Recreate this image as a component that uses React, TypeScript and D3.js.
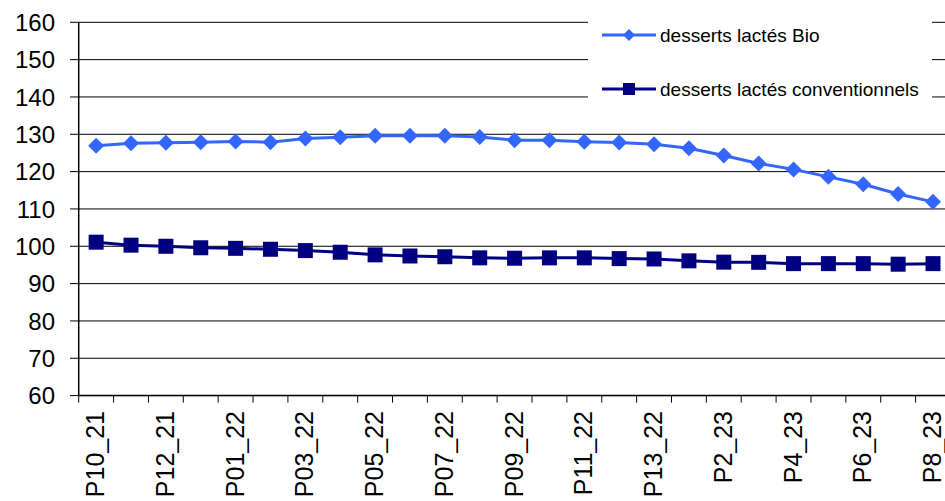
import React from "react";
import * as d3 from "d3";

const categories = [
  "P10_21", "P11_21", "P12_21", "P13_21", "P01_22", "P02_22", "P03_22", "P04_22",
  "P05_22", "P06_22", "P07_22", "P08_22", "P09_22", "P10_22", "P11_22", "P12_22",
  "P13_22", "P1_23", "P2_23", "P3_23", "P4_23", "P5_23", "P6_23", "P7_23", "P8_23",
];
const bioValues = [
  126.9, 127.6, 127.75, 127.9, 128.1, 127.9, 128.9, 129.2, 129.6, 129.6, 129.6, 129.3,
  128.4, 128.4, 128.0, 127.8, 127.3, 126.25, 124.3, 122.2, 120.6, 118.6, 116.6, 114.0, 111.9,
];
const convValues = [
  101.1, 100.3, 100.0, 99.6, 99.45, 99.2, 98.85, 98.4, 97.7, 97.4, 97.2, 96.9,
  96.8, 96.9, 96.9, 96.7, 96.6, 96.1, 95.75, 95.7, 95.35, 95.35, 95.35, 95.2, 95.35,
];
const yTicks = [60, 70, 80, 90, 100, 110, 120, 130, 140, 150, 160];
const seriesNames = ["desserts lactés Bio", "desserts lactés conventionnels"];

const W = 945;
const H = 501;
const left = 78.7;
const band = 34.87;
const top = 22.3;
const bottom = 395.6;
const FONT = "'Liberation Sans', Arial, sans-serif";

export default function App() {
  const x = d3
    .scaleBand<string>()
    .domain(categories)
    .range([left, left + band * categories.length])
    .paddingInner(0)
    .paddingOuter(0);
  const y = d3.scaleLinear().domain([60, 160]).range([bottom, top]);
  const cx = (c: string) => (x(c) as number) + x.bandwidth() / 2;

  const line = d3
    .line<number>()
    .x((_, i) => cx(categories[i]))
    .y((v) => y(v));

  const bioColor = "#3366FF";
  const convColor = "#000080";

  const diamond = (px: number, py: number, r: number) =>
    `M${px},${py - r}L${px + r},${py}L${px},${py + r}L${px - r},${py}Z`;

  return (
    <div style={{ position: "fixed", left: 0, top: 0, width: W, height: H, background: "#fff" }}>
      <svg width={W} height={H} style={{ display: "block" }} fontFamily={FONT}>
        <rect width={W} height={H} fill="#fff" />
        {/* gridlines */}
        {yTicks.map((t) => (
          <line
            key={"g" + t}
            x1={70}
            x2={W}
            y1={y(t)}
            y2={y(t)}
            stroke="#000"
            strokeWidth={1}
          />
        ))}
        {/* y labels */}
        {yTicks.map((t) => (
          <text
            key={"yl" + t}
            x={55}
            y={y(t)}
            dy="0.36em"
            textAnchor="end"
            fontSize={24}
            fill="#000"
          >
            {t}
          </text>
        ))}
        {/* y axis */}
        <line x1={left} x2={left} y1={top} y2={bottom} stroke="#000" strokeWidth={1.5} />
        {/* x axis */}
        <line x1={left} x2={W} y1={bottom} y2={bottom} stroke="#000" strokeWidth={1.5} />
        {categories.map((c) => (
          <line
            key={"xt" + c}
            x1={x(c) as number}
            x2={x(c) as number}
            y1={bottom}
            y2={bottom + 7}
            stroke="#000"
            strokeWidth={1}
          />
        ))}
        {categories.map((c, i) =>
          i % 2 === 0 ? (
            <text
              key={"xl" + c}
              transform={`translate(${cx(c) + 8},${411}) rotate(-90)`}
              textAnchor="end"
              fontSize={25}
              fill="#000"
            >
              {c}
            </text>
          ) : null
        )}
        {/* series lines */}
        <path d={line(bioValues) || ""} fill="none" stroke={bioColor} strokeWidth={3} />
        <path d={line(convValues) || ""} fill="none" stroke={convColor} strokeWidth={3} />
        {bioValues.map((v, i) => (
          <path key={"bm" + i} d={diamond(cx(categories[i]), y(v), 8)} fill={bioColor} />
        ))}
        {convValues.map((v, i) => (
          <rect
            key={"cm" + i}
            x={cx(categories[i]) - 7.5}
            y={y(v) - 7.5}
            width={15}
            height={15}
            fill={convColor}
          />
        ))}
        {/* legend */}
        <rect x={588} y={8} width={344} height={100} fill="#fff" />
        <line x1={602} x2={656} y1={35} y2={35} stroke={bioColor} strokeWidth={3} />
        <path d={diamond(629, 35, 6)} fill={bioColor} />
        <text x={660} y={35} dy="0.36em" fontSize={19} fill="#000">
          {seriesNames[0]}
        </text>
        <line x1={602} x2={656} y1={89} y2={89} stroke={convColor} strokeWidth={3} />
        <rect x={623} y={83} width={12} height={12} fill={convColor} />
        <text x={660} y={89} dy="0.36em" fontSize={19} fill="#000">
          {seriesNames[1]}
        </text>
      </svg>
    </div>
  );
}
